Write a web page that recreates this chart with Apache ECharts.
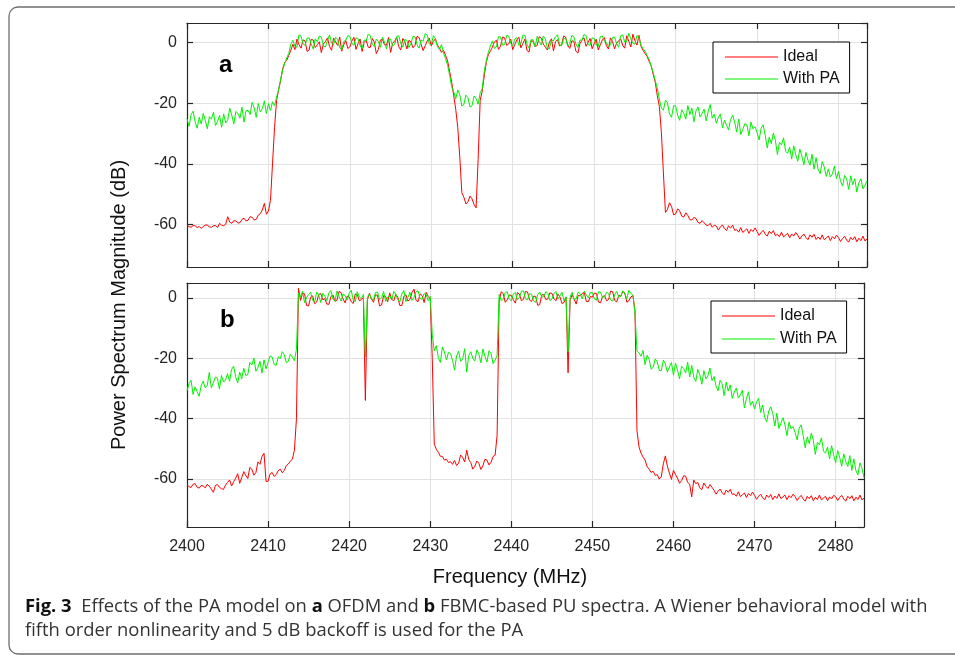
<!DOCTYPE html>
<html><head><meta charset="utf-8">
<script src="https://cdn.jsdelivr.net/npm/echarts@6/dist/echarts.min.js"></script>
<style>html,body{margin:0;padding:0;background:#fff;}#c{width:955px;height:655px;}</style>
</head><body><div id="c"></div>
<script>
// Frequency samples (MHz), shared by both panels
const freq = [
2400,2400.25,2400.5,2400.75,2401,2401.25,2401.5,2401.75,2402,2402.25,2402.5,2402.75,2403,2403.25,2403.5,2403.75,2404,2404.25,2404.5,2404.75,
2405,2405.25,2405.5,2405.75,2406,2406.25,2406.5,2406.75,2407,2407.25,2407.5,2407.75,2408,2408.25,2408.5,2408.75,2409,2409.25,2409.5,2409.75,
2410,2410.25,2410.5,2410.75,2411,2411.25,2411.5,2411.75,2412,2412.25,2412.5,2412.75,2413,2413.25,2413.5,2413.75,2414,2414.25,2414.5,2414.75,
2415,2415.25,2415.5,2415.75,2416,2416.25,2416.5,2416.75,2417,2417.25,2417.5,2417.75,2418,2418.25,2418.5,2418.75,2419,2419.25,2419.5,2419.75,
2420,2420.25,2420.5,2420.75,2421,2421.25,2421.5,2421.75,2422,2422.25,2422.5,2422.75,2423,2423.25,2423.5,2423.75,2424,2424.25,2424.5,2424.75,
2425,2425.25,2425.5,2425.75,2426,2426.25,2426.5,2426.75,2427,2427.25,2427.5,2427.75,2428,2428.25,2428.5,2428.75,2429,2429.25,2429.5,2429.75,
2430,2430.25,2430.5,2430.75,2431,2431.25,2431.5,2431.75,2432,2432.25,2432.5,2432.75,2433,2433.25,2433.5,2433.75,2434,2434.25,2434.5,2434.75,
2435,2435.25,2435.5,2435.75,2436,2436.25,2436.5,2436.75,2437,2437.25,2437.5,2437.75,2438,2438.25,2438.5,2438.75,2439,2439.25,2439.5,2439.75,
2440,2440.25,2440.5,2440.75,2441,2441.25,2441.5,2441.75,2442,2442.25,2442.5,2442.75,2443,2443.25,2443.5,2443.75,2444,2444.25,2444.5,2444.75,
2445,2445.25,2445.5,2445.75,2446,2446.25,2446.5,2446.75,2447,2447.25,2447.5,2447.75,2448,2448.25,2448.5,2448.75,2449,2449.25,2449.5,2449.75,
2450,2450.25,2450.5,2450.75,2451,2451.25,2451.5,2451.75,2452,2452.25,2452.5,2452.75,2453,2453.25,2453.5,2453.75,2454,2454.25,2454.5,2454.75,
2455,2455.25,2455.5,2455.75,2456,2456.25,2456.5,2456.75,2457,2457.25,2457.5,2457.75,2458,2458.25,2458.5,2458.75,2459,2459.25,2459.5,2459.75,
2460,2460.25,2460.5,2460.75,2461,2461.25,2461.5,2461.75,2462,2462.25,2462.5,2462.75,2463,2463.25,2463.5,2463.75,2464,2464.25,2464.5,2464.75,
2465,2465.25,2465.5,2465.75,2466,2466.25,2466.5,2466.75,2467,2467.25,2467.5,2467.75,2468,2468.25,2468.5,2468.75,2469,2469.25,2469.5,2469.75,
2470,2470.25,2470.5,2470.75,2471,2471.25,2471.5,2471.75,2472,2472.25,2472.5,2472.75,2473,2473.25,2473.5,2473.75,2474,2474.25,2474.5,2474.75,
2475,2475.25,2475.5,2475.75,2476,2476.25,2476.5,2476.75,2477,2477.25,2477.5,2477.75,2478,2478.25,2478.5,2478.75,2479,2479.25,2479.5,2479.75,
2480,2480.25,2480.5,2480.75,2481,2481.25,2481.5,2481.75,2482,2482.25,2482.5,2482.75,2483,2483.25,2483.5];

// ---------- Panel a (OFDM) ----------
const idealA = [
-60.2,-60.7,-60.9,-60.3,-60.4,-61.0,-60.6,-61.3,-60.6,-60.2,-60.1,-60.8,-60.9,-60.4,-60.3,-61.0,-59.6,-60.2,-60.4,-59.9,
-57.4,-59.2,-59.6,-58.7,-58.8,-59.5,-59.4,-58.3,-57.9,-58.8,-58.6,-57.4,-57.6,-58.5,-58.3,-56.9,-56.4,-55.2,-53.0,-56.6,
-55.5,-52,-40,-28,-19,-15.5,-12.5,-8.5,-6.5,-5.8,-4.2,-2.5,-0.5,-2.3,1.2,-0.6,-1.8,0.9,0.6,-2.9,
-2.4,1.1,0.9,-1.6,-0.7,0.3,-3.3,-0.4,0.4,1.6,-1.2,-2.5,1.5,0.2,-0.9,1.9,-2.8,-0.6,0.7,-1.9,
-1.4,0.6,1.8,-2.2,-0.3,1.2,-2.9,0.1,0.8,-1.5,-1.6,1.4,0.2,-3.6,-2.2,0.9,1.1,-0.7,-0.8,1.7,
-3.2,-0.2,0.5,1.9,-1.3,-2.4,1.4,0.3,-2.1,0.8,0.3,-1.7,-0.9,2.1,1.7,-0.5,-2.6,-1.0,0.6,1.5,
-1.1,0.4,1.3,-0.8,-1.8,-3.2,-2.5,-4.2,-6,-9.5,-13,-17.5,-22,-28,-38,-49.5,-51,-53.2,-52.5,-50.6,
-51.5,-53.4,-54.5,-38.5,-19,-16,-11,-6.5,-4,-2.8,-1.5,0.3,0.8,-2.2,-1.2,1.9,1.6,-0.9,-0.4,1.2,
-2.3,-0.6,0.9,1.8,-1.7,-0.2,1.2,-2.6,-3.1,0.7,0.4,-1.3,-0.9,2.0,1.5,-0.4,-1.5,-2.4,0.2,1.3,
-2.7,0.3,1.0,-1.1,-0.6,2.2,1.8,-0.8,-1.9,0.6,0.5,-2.8,-3.4,-0.3,0.8,1.6,-1.2,0.1,1.4,-2.0,
-0.3,1.1,-2.4,-0.7,0.9,1.7,-1.0,-2.1,1.6,0.4,-2.0,-0.2,0.6,1.3,-0.9,-1.8,2.3,0.5,-1.4,2.8,
0.7,-0.8,2.4,-1.2,-2.5,-3.6,-4.5,-6.2,-7.5,-10.5,-13,-17.5,-21,-29.5,-43,-56,-55,-52.8,-54,-56.8,
-56.5,-54.8,-55.5,-57.2,-57.5,-56.1,-57,-58.4,-58.5,-57.6,-58,-59.3,-59.6,-58.7,-59.4,-60.2,-60.3,-59.6,-60.9,-60.2,
-60.5,-61.8,-60.8,-60.1,-61.3,-62.0,-60.4,-61.2,-60.2,-61.9,-61.7,-62.5,-61.0,-62.6,-62.0,-61.4,-62.9,-61.6,-62.3,-61.1,
-62.3,-63.6,-62.6,-61.9,-63.1,-63.8,-62.2,-63.0,-62.0,-63.7,-63.2,-64.0,-62.5,-64.1,-63.5,-62.9,-64.4,-63.1,-63.8,-62.6,
-63.5,-64.8,-63.8,-63.1,-64.3,-65.0,-63.4,-64.2,-63.2,-64.9,-64.1,-64.9,-63.4,-65.0,-64.4,-63.8,-65.3,-64.0,-64.7,-63.5,
-64.3,-65.6,-64.6,-63.9,-65.1,-65.8,-64.2,-65.0,-64.0,-65.7,-64.5,-65.3,-63.8,-65.4,-64.8];
const withPaA = [
-25.1,-27.6,-23.7,-22.6,-26.1,-28.2,-24.6,-26.8,-23.3,-25.7,-28.4,-24.4,-25.2,-22.9,-27.3,-26.0,-24.0,-27.9,-23.5,-26.5,
-25.6,-21.6,-23.9,-26.8,-22.7,-23.3,-24.9,-21.3,-26.2,-22.4,-22.3,-23.7,-19.7,-21.5,-24.6,-20.1,-22.8,-21.8,-19.2,-23.4,
-20.1,-22.4,-19.5,-20.8,-18,-15.5,-12,-9,-6.8,-5.0,-3.5,-0.5,0.8,-1.2,-1.5,2.6,2.2,-0.3,-0.9,1.5,
1.6,-0.4,-2.1,1.3,0.3,2.2,1.9,-1.1,-1.4,0.7,2.6,-0.2,-0.6,1.8,1.1,-1.7,-2.3,0.4,0.9,2.3,
2.1,-0.3,-0.8,1.6,1.4,-1.0,-1.9,0.9,0.6,2.8,2.4,-0.6,-1.2,1.2,0.4,-1.5,1.8,0.2,-2.0,1.0,
1.2,-1.1,-0.5,2.0,2.3,-0.3,-1.5,1.1,0.8,-1.6,-0.2,2.1,1.9,-0.7,-1.8,0.9,0.5,3.0,2.5,-0.4,
-0.7,2.3,1.4,-1.3,-2.2,-0.6,-3.5,-5.2,-7.5,-10.8,-14.5,-16.2,-18.5,-15.6,-17.2,-20.9,-20.4,-17.3,-18.1,-21.2,
-20.8,-17.6,-18.4,-20.3,-16.5,-15.2,-9.5,-6.0,-3.2,-1.1,0.6,-1.9,-1.4,2.0,1.9,-0.8,-0.6,2.4,2.2,-0.2,
-1.1,1.2,1.7,-0.9,-0.4,2.5,2.4,-0.5,-1.8,1.0,0.9,-1.4,2.1,0.3,-0.8,2.2,1.3,-1.9,-2.0,0.8,
0.7,2.0,2.6,-0.7,-1.0,1.3,1.5,-1.2,-0.3,2.4,2.0,-0.4,-1.6,0.9,0.8,2.7,2.3,-0.6,-0.9,1.6,
1.4,-0.8,-1.3,2.0,2.2,0.5,0.1,-1.4,-0.7,1.7,1.9,-0.3,-1.5,2.3,2.6,0.2,0.4,3.1,1.2,-0.2,
-0.5,2.4,1.8,-0.9,-2.0,-2.8,-4.2,-5.5,-7.8,-9.9,-12.5,-15.0,-18.5,-21.6,-22.3,-19.0,-19.8,-23.5,-24.6,-20.8,
-20.8,-24.0,-25.6,-22.1,-23.3,-25.2,-20.7,-23.7,-21.6,-26.1,-22.5,-21.2,-24.5,-23.4,-21.9,-25.8,-22.7,-20.4,-24.9,-23.6,
-26.6,-24.6,-23.5,-28.1,-25.6,-27.3,-28.8,-25.3,-23.9,-26.2,-29.5,-25.2,-30.3,-28.6,-26.7,-27.1,-30.7,-26.2,-28.4,-27.7,
-29.6,-32.1,-28.2,-27.1,-30.6,-34.7,-31.1,-33.3,-29.8,-32.2,-36.9,-32.9,-33.7,-31.4,-35.8,-36.5,-34.5,-38.4,-34.0,-37.0,
-39.1,-35.1,-37.4,-40.3,-36.2,-38.8,-40.4,-36.8,-41.7,-37.9,-41.8,-43.2,-39.2,-41.0,-44.1,-41.6,-44.3,-43.3,-40.7,-44.9,
-42.5,-45.7,-47.3,-43.8,-45.0,-48.4,-43.9,-46.9,-44.8,-49.3,-46.2,-44.9,-48.2,-47.1,-45.6];

// ---------- Panel b (FBMC) ----------
const idealB = [
-62.0,-62.6,-62.9,-61.8,-61.6,-62.8,-63.1,-62.2,-62.4,-63.0,-61.8,-62.5,-63.4,-64.5,-62.2,-61.9,-62.8,-63.3,-63.5,-62.1,
-61.2,-60.4,-62.4,-61.0,-59.8,-58.3,-61.5,-59.6,-57.6,-58.9,-59.9,-56.2,-56.8,-58.8,-57.9,-54.4,-55.2,-52.6,-51.5,-60.9,
-60.8,-58.4,-57.9,-59.2,-58.6,-57.3,-56.8,-58.0,-57.2,-55.6,-55.1,-54.2,-53.4,-50.5,-40,3.2,-0.8,1.6,1.4,-2.5,
-2.6,0.3,0.7,-1.9,-1.3,1.2,1.5,-0.6,-0.2,-2.0,-2.1,0.5,1.0,-1.1,-0.7,2.2,1.8,-0.3,-1.6,0.6,
0.4,-1.2,-1.8,1.3,1.2,-0.9,-0.5,0.2,-34,-0.6,1.6,-0.3,-1.4,1.1,0.9,-2.6,-2.3,0.8,0.5,-1.2,
1.7,-0.4,-0.9,1.2,0.3,-2.5,-2.5,0.6,1.1,-1.0,-0.4,1.9,3.0,-0.8,-1.2,1.4,0.8,-1.5,1.9,0.5,
-0.3,-20,-48.5,-50.2,-51.2,-52.5,-52.6,-53.8,-53.5,-54.6,-54.3,-55.2,-53.9,-55.6,-54.8,-52.1,-52.9,-54.4,-50.5,-53.6,
-54.6,-56.8,-55.8,-54.1,-54.9,-56.9,-55.6,-53.5,-53.8,-55.4,-54.5,-52.6,-52.2,-45.5,-1.0,2.1,1.5,-1.4,-0.6,1.0,
0.9,-0.6,-1.7,1.8,1.3,-0.9,-0.4,2.2,2.0,-0.7,-1.1,0.6,0.6,-2.4,-2.2,1.0,1.2,-0.5,-0.3,1.7,
1.6,-0.2,-0.9,1.3,0.4,-1.8,-1.5,0.3,-24.8,-0.8,1.1,-0.4,-2.0,0.9,0.7,1.6,1.8,-1.1,-1.2,0.5,
0.3,1.7,1.5,-1.3,-1.6,0.5,0.8,-0.9,-0.5,2.3,2.1,-0.8,-1.3,0.9,0.6,2.2,1.7,-1.4,-0.9,0.4,
0.8,-4,-44,-49.4,-51.5,-52.8,-53.8,-56.0,-56.8,-57.9,-57.5,-58.9,-58.6,-60.1,-59.3,-55.0,-52.4,-55.8,-58.1,-60.2,
-57.2,-58.6,-59.8,-61.5,-60.6,-59.0,-59.1,-61.2,-61.8,-66.0,-60.4,-61.6,-61.2,-63.0,-63.6,-61.4,-62.5,-63.2,-61.9,-62.8,
-63.8,-65.1,-64.1,-63.4,-64.6,-65.3,-63.7,-64.5,-63.5,-65.2,-65.0,-65.8,-64.3,-65.9,-65.3,-64.7,-66.2,-64.9,-65.6,-64.4,
-65.5,-66.8,-65.8,-65.1,-66.3,-67.0,-65.4,-66.2,-65.2,-66.9,-65.7,-66.5,-65.0,-66.6,-66.0,-65.4,-66.9,-65.6,-66.3,-65.1,
-65.9,-67.2,-66.2,-65.5,-66.7,-67.4,-65.8,-66.6,-65.6,-67.3,-66.1,-66.9,-65.4,-67.0,-66.4,-65.8,-67.3,-66.0,-66.7,-65.5,
-65.9,-67.2,-66.2,-65.5,-66.7,-67.4,-65.8,-66.6,-65.6,-67.3,-66.1,-66.9,-65.4,-67.0,-66.4];
const withPaB = [
-30.8,-28.4,-27.3,-32.0,-29.5,-31.1,-32.6,-29.0,-27.6,-29.8,-29.0,-24.7,-29.8,-28.1,-26.2,-26.6,-30.2,-25.7,-27.9,-27.2,
-25.1,-27.6,-23.7,-22.6,-26.1,-28.2,-24.6,-26.8,-23.3,-25.7,-25.4,-21.4,-22.2,-19.9,-24.3,-23.0,-21.0,-24.9,-20.5,-23.5,
-21.3,-19.2,-19.6,-22.0,-22.4,-19.5,-20.1,-17.8,-18.8,-21.5,-21.0,-18.6,-19.6,-20.8,-17.0,1.6,0.4,2.3,-1.5,0.2,
1.2,2.0,-0.8,-1.3,2.0,0.9,-1.5,1.6,0.6,-0.9,1.7,2.5,-0.3,-1.0,2.3,0.5,-1.0,1.4,0.9,-0.7,
1.5,2.6,-0.6,-1.2,2.1,0.4,-0.2,1.2,-19.5,0.2,1.3,-0.4,-0.7,1.9,2.0,-0.5,0.1,2.2,-1.1,0.3,
0.8,-0.6,2.2,1.3,-0.5,-1.3,1.4,2.5,-1.2,0.2,1.9,-0.8,0.3,2.1,2.4,-0.2,-0.4,1.5,1.1,-0.9,
0.6,-12,-17.6,-15.8,-19.8,-21.4,-16.2,-17.9,-20.5,-18.0,-18.4,-20.7,-23.9,-19.2,-17.6,-21.0,-20.3,-16.8,-24.6,-19.1,
-17.8,-20.0,-20.9,-17.2,-18.6,-21.5,-16.9,-19.4,-21.2,-17.5,-18.4,-21.8,-20.6,-19,1.2,-0.8,-0.5,1.9,2.1,-0.3,
-0.9,1.4,1.8,-0.6,0.2,2.3,2.4,-0.2,-0.6,1.5,1.3,-1.0,-1.4,1.1,2.0,0.3,0.5,2.1,1.6,-0.8,
-0.4,1.5,2.2,-0.3,0.8,1.9,-0.9,0.4,-17.8,0.3,1.9,-0.5,-0.2,2.0,1.4,-0.3,2.3,1.0,0.1,1.8,
1.8,-0.3,-0.7,2.1,2.0,0.1,0.4,1.9,1.5,-0.6,-1.0,1.2,2.2,0.3,0.6,2.4,1.3,-0.2,2.6,1.5,
1.0,-5,-17.5,-18.2,-19.3,-17.4,-22.1,-19.0,-20.4,-23.6,-23.0,-20.2,-21.2,-24.0,-24.1,-20.6,-21.8,-24.6,-22.9,-21.4,
-25.6,-21.6,-23.9,-26.8,-22.7,-23.3,-24.9,-21.3,-26.2,-22.4,-26.3,-27.7,-23.7,-25.5,-28.6,-24.1,-26.8,-25.8,-23.2,-27.4,
-26.0,-29.2,-30.8,-27.3,-28.5,-32.4,-27.9,-30.9,-28.8,-33.3,-31.2,-29.9,-33.2,-32.1,-30.6,-36.5,-33.4,-31.1,-35.6,-34.3,
-36.8,-34.4,-33.3,-38.0,-35.5,-39.6,-41.1,-37.5,-36.1,-38.3,-42.5,-38.2,-43.3,-41.6,-39.7,-42.1,-45.7,-41.2,-43.4,-42.7,
-44.6,-47.1,-43.2,-42.1,-45.6,-49.7,-46.1,-48.3,-44.8,-47.2,-51.9,-47.9,-48.7,-46.4,-50.8,-51.5,-49.5,-53.4,-49.0,-52.0,
-54.6,-50.6,-52.9,-55.8,-51.7,-54.3,-55.9,-52.3,-57.2,-53.4,-57.3,-58.7,-54.7,-56.5,-59.6];

const xTicks = [2400,2410,2420,2430,2440,2450,2460,2470,2480];
const yTicks = [-60,-40,-20,0];
const seriesNames = ['Ideal','With PA'];
const panelLetters = ['a','b'];

[idealA, withPaA, idealB, withPaB].forEach((a, k) => {
  if (a.length !== freq.length) throw new Error('length mismatch in array ' + k + ': ' + a.length + ' vs ' + freq.length);
});

const AX = '#262626';
const FONT = '"Liberation Sans", Arial, sans-serif';
const RED = '#ff0000', GREEN = '#00f000';
function xAx(g, pos, labels) {
  return {
    type:'value', gridIndex:g, position:pos, min:2400, max:2483.5, interval:10,
    axisLine:{show:true, onZero:false, lineStyle:{color:AX, width:1.2}},
    axisTick:{show:true, inside:true, length:6, lineStyle:{color:AX, width:1.2}},
    axisLabel:{show:labels, color:AX, fontSize:16, fontFamily:FONT, margin:12,
      showMaxLabel:false,
      formatter:v => xTicks.indexOf(v) >= 0 ? String(v) : ''},
    splitLine:{show:pos==='bottom', lineStyle:{color:'#e2e2e2', width:1}}
  };
}
function yAx(g, pos, lo, hi) {
  return {
    type:'value', gridIndex:g, position:pos, min:lo, max:hi,
    axisLine:{show:true, onZero:false, lineStyle:{color:AX, width:1.2}},
    axisTick:{show:true, inside:true, length:6, lineStyle:{color:AX, width:1.2}},
    axisLabel:{show:pos==='left', color:AX, fontSize:16, fontFamily:FONT, margin:10,
      showMinLabel:false, showMaxLabel:false,
      formatter:v => yTicks.indexOf(v) >= 0 ? String(v) : ''},
    splitLine:{show:pos==='left', lineStyle:{color:'#e2e2e2', width:1}}
  };
}
function mk(name, vals, xi, yi, color) {
  return {
    name, type:'line', xAxisIndex:xi, yAxisIndex:yi, symbol:'none', showSymbol:false,
    animation:false, silent:true,
    lineStyle:{color, width:1}, itemStyle:{color},
    data: freq.map((f,i)=>[f, vals[i]])
  };
}
function legend(left, top, gap, pad) {
  return {
    data:seriesNames, orient:'vertical', left, top, itemWidth:53, itemHeight:14,
    icon:'path://M0,0H53V1.2H0Z', itemStyle:{borderWidth:0},
    itemGap:gap, padding:pad, borderColor:'#000', borderWidth:1, backgroundColor:'#fff',
    textStyle:{fontSize:16, fontFamily:FONT, color:'#111'}, selectedMode:false
  };
}

const chart = echarts.init(document.getElementById('c'), null, {renderer:'canvas'});
chart.setOption({
  animation:false,
  backgroundColor:'#fff',
  grid:[
    {left:187, top:23, width:680, height:244},
    {left:187, top:283, width:677, height:244}
  ],
  xAxis:[xAx(0,'bottom',false), xAx(0,'top',false), xAx(1,'bottom',true), xAx(1,'top',false)],
  yAxis:[yAx(0,'left',-74,6.5), yAx(0,'right',-74,6.5), yAx(1,'left',-76,5), yAx(1,'right',-76,5)],
  legend:[legend(713,42,6,[7,10,6,12]), legend(711,301,7,[7,10,6,11])],
  series:[
    mk(seriesNames[0], idealA, 0, 0, RED),
    mk(seriesNames[1], withPaA, 0, 0, GREEN),
    mk(seriesNames[0], idealB, 2, 2, RED),
    mk(seriesNames[1], withPaB, 2, 2, GREEN)
  ],
  graphic:[
    {type:'rect', silent:true, z:-1, shape:{x:9, y:7, width:980, height:647, r:9},
      style:{fill:null, stroke:'#6e6e6e', lineWidth:1.3}},
    {type:'text', left:219, top:53, style:{text:panelLetters[0], font:'bold 24px "Liberation Sans", Arial', fill:'#000'}},
    {type:'text', left:220, top:308, style:{text:panelLetters[1], font:'bold 24px "Liberation Sans", Arial', fill:'#000'}},
    {type:'text', x:510, y:577, style:{text:'Frequency (MHz)', font:'20px "Liberation Sans", Arial', fill:'#111', align:'center', verticalAlign:'middle'}},
    {type:'text', x:119, y:305, rotation:Math.PI/2, style:{text:'Power Spectrum Magnitude (dB)', font:'20px "Liberation Sans", Arial', fill:'#111', align:'center', verticalAlign:'middle'}},
    {type:'text', x:25, y:607, style:{
      text:'{b|Fig. 3}  Effects of the PA model on {b|a} OFDM and {b|b} FBMC-based PU spectra. A Wiener behavioral model with',
      font:'18.4px "Open Sans"', fill:'#333', verticalAlign:'middle',
      rich:{b:{fontWeight:'bold', fontFamily:'Open Sans', fontSize:18.4, fill:'#111'}}}},
    {type:'text', x:25, y:631, style:{text:'fifth order nonlinearity and 5 dB backoff is used for the PA',
      font:'18.4px "Open Sans"', fill:'#333', verticalAlign:'middle'}}
  ]
});
</script></body></html>
